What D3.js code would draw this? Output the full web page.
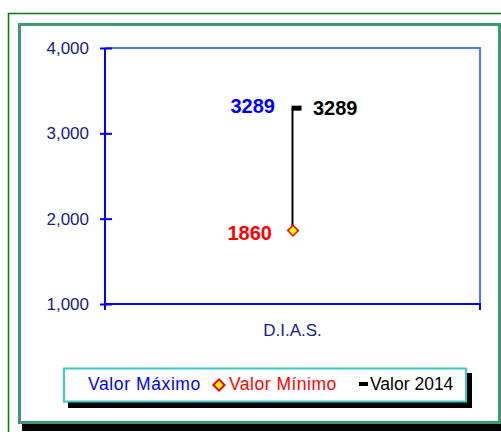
<!DOCTYPE html>
<html>
<head>
<meta charset="utf-8">
<script src="https://cdn.jsdelivr.net/npm/d3@7"></script>
<style>
  html, body { margin: 0; padding: 0; background: #fff; }
  svg { display: block; font-family: "Liberation Sans", Arial, sans-serif; }
</style>
</head>
<body>
<div id="chart"></div>
<script>
// chart data
const categories = ["D.I.A.S."];
const maxValues = [3289];
const minValues = [1860];
const values2014 = [3289];
const yTicks = [1000, 2000, 3000, 4000];
const legendLabels = ["Valor Máximo", "Valor Mínimo", "Valor 2014"];

const width = 501;
const height = 432;
const plot = { left: 105, right: 480, top: 48, bottom: 304 };

const svg = d3.select("#chart")
  .append("svg")
  .attr("width", width)
  .attr("height", height)
  .attr("viewBox", [0, 0, width, height]);

// outer thin green border
svg.append("rect")
  .attr("x", 8.5).attr("y", 13.5)
  .attr("width", 520).attr("height", 440)
  .attr("fill", "none")
  .attr("stroke", "#008000")
  .attr("stroke-width", 1.5);

// inner frame shadow + frame
svg.append("rect")
  .attr("x", 22).attr("y", 25)
  .attr("width", 490).attr("height", 406)
  .attr("fill", "#000");
svg.append("rect")
  .attr("x", 19.5).attr("y", 24.5)
  .attr("width", 480).attr("height", 398)
  .attr("fill", "#fff")
  .attr("stroke", "#3d9970")
  .attr("stroke-width", 3);

// scales
const x = d3.scaleBand(categories, [plot.left, plot.right]);
const y = d3.scaleLinear([1000, 4000], [plot.bottom, plot.top]);

// plot area border (top + right)
svg.append("path")
  .attr("d", `M${plot.left},${plot.top}H${plot.right}V${plot.bottom}`)
  .attr("fill", "none")
  .attr("stroke", "#4d79ff")
  .attr("stroke-width", 2);

// y axis
const yAxis = d3.axisLeft(y)
  .tickValues(yTicks)
  .tickFormat(d3.format(","))
  .tickSize(5)
  .tickPadding(11);

svg.append("g")
  .attr("class", "y-axis")
  .attr("transform", `translate(${plot.left},0)`)
  .call(yAxis)
  .call((g) => g.select(".domain")
    .attr("d", `M0,${plot.top}V${plot.bottom + 6}`)
    .attr("stroke", "#0000ff")
    .attr("stroke-width", 2))
  .call((g) => g.selectAll(".tick line")
    .attr("x1", 7)
    .attr("stroke", "#0000ff")
    .attr("stroke-width", 2))
  .call((g) => g.selectAll(".tick text")
    .attr("fill", "#1a1a80")
    .attr("font-family", "Liberation Sans, Arial, sans-serif")
    .attr("font-size", 17));

// x axis
const xAxis = d3.axisBottom(x).tickSize(0).tickPadding(20);

svg.append("g")
  .attr("class", "x-axis")
  .attr("transform", `translate(0,${plot.bottom})`)
  .call(xAxis)
  .call((g) => g.select(".domain")
    .attr("d", `M${plot.left},0H${plot.right}V6`)
    .attr("stroke", "#0000ff")
    .attr("stroke-width", 2)
    .attr("fill", "none"))
  .call((g) => g.selectAll(".tick text")
    .attr("fill", "#1a1a80")
    .attr("font-family", "Liberation Sans, Arial, sans-serif")
    .attr("font-size", 17));

const cx = (i) => x(categories[i]) + x.bandwidth() / 2;

// high-low line
svg.append("g")
  .selectAll("line")
  .data(d3.range(categories.length))
  .join("line")
  .attr("x1", cx).attr("x2", cx)
  .attr("y1", (i) => y(maxValues[i]))
  .attr("y2", (i) => y(minValues[i]))
  .attr("stroke", "#000")
  .attr("stroke-width", 2);

// 2014 dash marker
svg.append("g")
  .selectAll("rect")
  .data(d3.range(categories.length))
  .join("rect")
  .attr("x", (i) => cx(i) - 1)
  .attr("y", (i) => y(values2014[i]) - 3)
  .attr("width", 10)
  .attr("height", 5)
  .attr("fill", "#000");

// min diamond marker
const diamond = d3.symbol(d3.symbolDiamond2, 72);
svg.append("g")
  .selectAll("path")
  .data(d3.range(categories.length))
  .join("path")
  .attr("d", diamond)
  .attr("transform", (i) => `translate(${cx(i) + 0.5},${y(minValues[i])})`)
  .attr("fill", "#ffff00")
  .attr("stroke", "#ff0000")
  .attr("stroke-width", 1.5);

// value labels
const labels = svg.append("g")
  .attr("font-size", 20)
  .attr("font-weight", "bold");

labels.selectAll(".max-label")
  .data(d3.range(categories.length))
  .join("text")
  .attr("x", (i) => cx(i) - 17.5)
  .attr("y", (i) => y(maxValues[i]) + 4.5)
  .attr("text-anchor", "end")
  .attr("fill", "#0000ff")
  .text((i) => maxValues[i]);

labels.selectAll(".v2014-label")
  .data(d3.range(categories.length))
  .join("text")
  .attr("x", (i) => cx(i) + 20.5)
  .attr("y", (i) => y(values2014[i]) + 6.5)
  .attr("fill", "#000")
  .text((i) => values2014[i]);

labels.selectAll(".min-label")
  .data(d3.range(categories.length))
  .join("text")
  .attr("x", (i) => cx(i) - 20.5)
  .attr("y", (i) => y(minValues[i]) + 9.5)
  .attr("text-anchor", "end")
  .attr("fill", "#ff0000")
  .text((i) => minValues[i]);

// legend
const legend = svg.append("g");
legend.append("rect")
  .attr("x", 68).attr("y", 373)
  .attr("width", 404).attr("height", 35)
  .attr("fill", "#000");
legend.append("rect")
  .attr("x", 64).attr("y", 368.5)
  .attr("width", 402).attr("height", 33)
  .attr("fill", "#fff")
  .attr("stroke", "#40c8c8")
  .attr("stroke-width", 2);

const legendY = 390;
const legendFont = 17.5;
legend.append("text")
  .attr("x", 88).attr("y", legendY)
  .attr("font-size", legendFont)
  .attr("letter-spacing", 0.6)
  .attr("fill", "#0000ff")
  .text(legendLabels[0]);

legend.append("path")
  .attr("d", d3.symbol(d3.symbolDiamond2, 80))
  .attr("transform", `translate(219,${legendY - 5})`)
  .attr("fill", "#ffff00")
  .attr("stroke", "#ff0000")
  .attr("stroke-width", 2);
legend.append("text")
  .attr("x", 229).attr("y", legendY)
  .attr("font-size", legendFont)
  .attr("letter-spacing", 0.5)
  .attr("fill", "#ff0000")
  .text(legendLabels[1]);

legend.append("rect")
  .attr("x", 359).attr("y", legendY - 8)
  .attr("width", 9).attr("height", 4)
  .attr("fill", "#000");
legend.append("text")
  .attr("x", 370).attr("y", legendY)
  .attr("font-size", legendFont)
  .attr("fill", "#000")
  .text(legendLabels[2]);
</script>
</body>
</html>
